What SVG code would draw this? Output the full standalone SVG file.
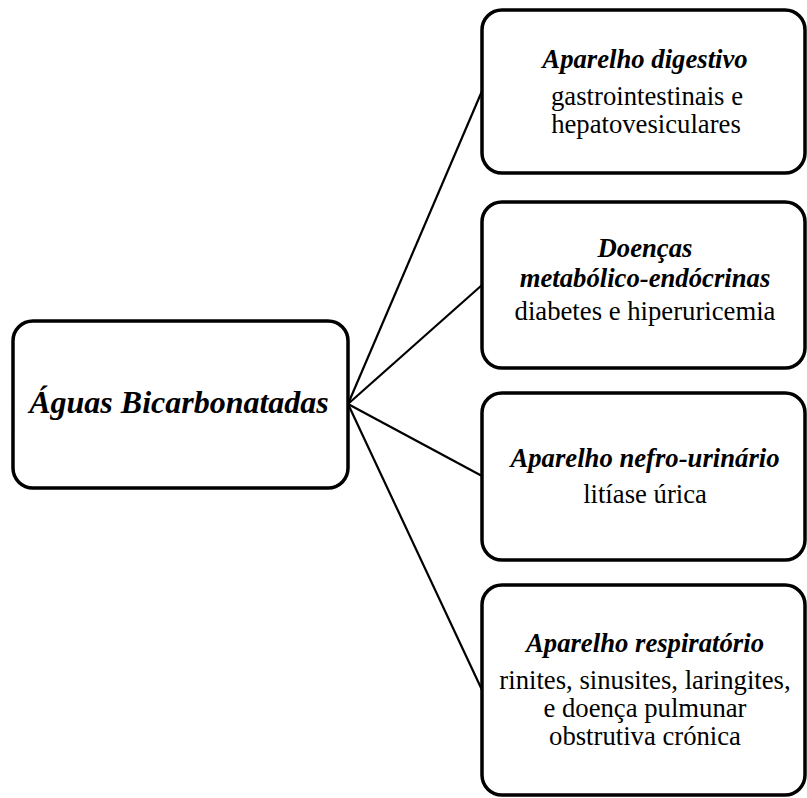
<svg xmlns="http://www.w3.org/2000/svg" width="807" height="798" viewBox="0 0 807 798">
<style>
.box{fill:#fff;stroke:#000;stroke-width:3.5}
.conn line{stroke:#000;stroke-width:2.2}
text{font-family:"Liberation Serif","Times New Roman",serif;fill:#000;text-anchor:middle}
.t{font-weight:bold;font-style:italic;font-size:26.7px}
.b{font-size:26.7px}
.main{font-weight:bold;font-style:italic;font-size:32px}
</style>
<rect width="807" height="798" fill="#fff"/>
<g id="connectors" class="conn">
<line x1="348" y1="404" x2="482" y2="91"/>
<line x1="348" y1="404" x2="482" y2="285"/>
<line x1="348" y1="404" x2="482" y2="476"/>
<line x1="348" y1="404" x2="482" y2="690"/>
</g>
<g id="node-main">
<rect class="box" x="13" y="321" width="335" height="167" rx="20"/>
<text class="main" x="179" y="413">Águas Bicarbonatadas</text>
</g>
<g id="node-digestivo">
<rect class="box" x="482" y="10" width="323" height="163" rx="20"/>
<text class="t" x="645" y="68">Aparelho digestivo</text>
<text class="b" x="647" y="105">gastrointestinais e</text>
<text class="b" x="646" y="133">hepatovesiculares</text>
</g>
<g id="node-metabolico">
<rect class="box" x="482" y="202" width="323" height="166" rx="20"/>
<text class="t" x="645" y="257">Doenças</text>
<text class="t" x="645" y="287">metabólico-endócrinas</text>
<text class="b" x="645" y="320">diabetes e hiperuricemia</text>
</g>
<g id="node-nefro">
<rect class="box" x="482" y="393" width="323" height="167" rx="20"/>
<text class="t" x="645" y="467">Aparelho nefro-urinário</text>
<text class="b" x="645" y="503">litíase úrica</text>
</g>
<g id="node-respiratorio">
<rect class="box" x="482" y="585" width="323" height="210" rx="20"/>
<text class="t" x="645" y="652">Aparelho respiratório</text>
<text class="b" x="645" y="689">rinites, sinusites, laringites,</text>
<text class="b" x="645" y="717">e doença pulmunar</text>
<text class="b" x="645" y="745">obstrutiva crónica</text>
</g>
</svg>
